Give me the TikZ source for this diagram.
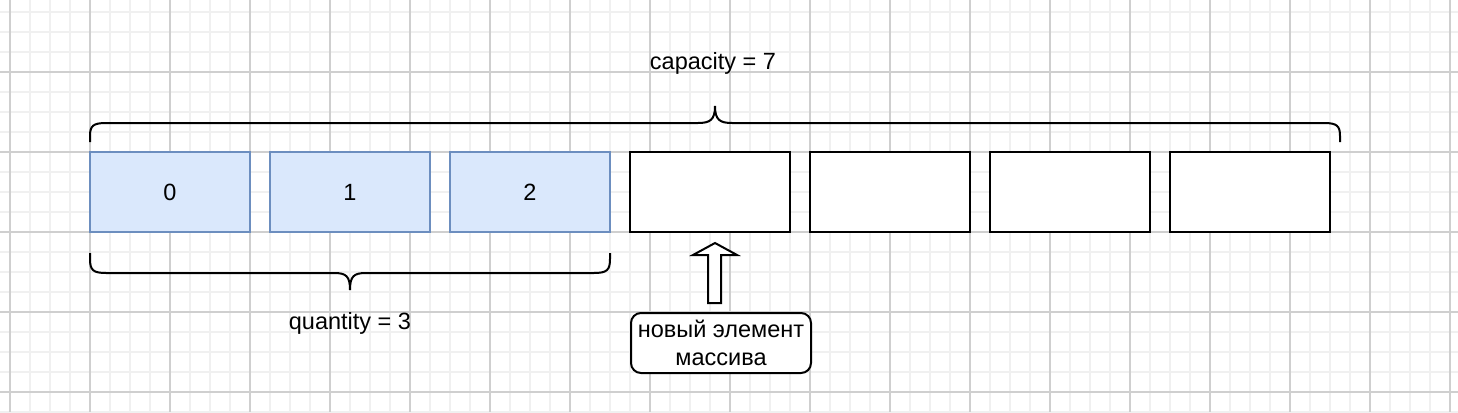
\documentclass[tikz,border=0pt]{standalone}
\usepackage{fontspec}
\setmainfont{Liberation Sans}
\definecolor{gridminor}{HTML}{F0F0F0}
\definecolor{gridmajor}{HTML}{CFCFCF}
\definecolor{cellfill}{HTML}{DAE8FC}
\definecolor{celldraw}{HTML}{6C8EBF}
\tikzset{
  lbl/.style={font=\fontsize{23.5}{28}\selectfont, inner sep=0pt},
  cellbox/.style={draw, line width=2pt, minimum width=160pt, minimum height=80pt, inner sep=0pt, font=\fontsize{23.5}{28}\selectfont},
  usedcell/.style={cellbox, fill=cellfill, draw=celldraw},
  freecell/.style={cellbox, fill=white, draw=black},
  bracestyle/.style={draw=black, line width=2pt},
  notebox/.style={draw=black, fill=white, line width=2pt, rounded corners=10pt, minimum width=180pt, minimum height=60pt, inner sep=0pt, align=center, font=\fontsize{23.5}{28}\selectfont},
}
\begin{document}
\begin{tikzpicture}[x=1pt,y=-1pt]
\useasboundingbox (0,0) rectangle (1458,412);
\fill[white] (0,0) rectangle (1458,412);
% grid
\foreach \i in {0,...,72} { \draw[gridminor, line width=2pt] (10+20*\i,0) -- (10+20*\i,412); }
\foreach \j in {0,...,20} { \draw[gridminor, line width=2pt] (0,12+20*\j) -- (1458,12+20*\j); }
\foreach \i in {0,...,18} { \draw[gridmajor, line width=1.2pt] (10+80*\i,0) -- (10+80*\i,412); }
\foreach \j in {0,...,4} { \draw[gridmajor, line width=1.2pt] (0,72+80*\j) -- (1458,72+80*\j); }
% cells
\node[usedcell] (c0) at (170,192) {0};
\node[usedcell] (c1) at (350,192) {1};
\node[usedcell] (c2) at (530,192) {2};
\node[freecell] (c3) at (710,192) {};
\node[freecell] (c4) at (890,192) {};
\node[freecell] (c5) at (1070,192) {};
\node[freecell] (c6) at (1250,192) {};
% top brace
\draw[bracestyle] (90,142) -- (90,136) .. controls (90,126) and (93,123) .. (106,123) -- (698,123) .. controls (710,123) and (715,120) .. (715,106) .. controls (715,120) and (720,123) .. (732,123) -- (1324,123) .. controls (1337,123) and (1340,126) .. (1340,136) -- (1340,142);
\node[lbl] (cap) at (713,63) {capacity = 7};
% bottom brace
\draw[bracestyle] (90,253) -- (90,259) .. controls (90,270) and (93,273) .. (106,273) -- (334,273) .. controls (346,273) and (350,276) .. (350,290) .. controls (350,276) and (354,273) .. (366,273) -- (594,273) .. controls (607,273) and (610,270) .. (610,259) -- (610,253);
\node[lbl] (qty) at (350,323) {quantity = 3};
% note and arrow
\node[notebox] (note) at (721,343) {новый элемент\\массива};
\draw[line width=2pt, fill=white, line join=miter] (708,303) -- (708,255) -- (693,255) -- (715,243) -- (737,255) -- (721,255) -- (721,303) -- cycle;
\end{tikzpicture}
\end{document}
